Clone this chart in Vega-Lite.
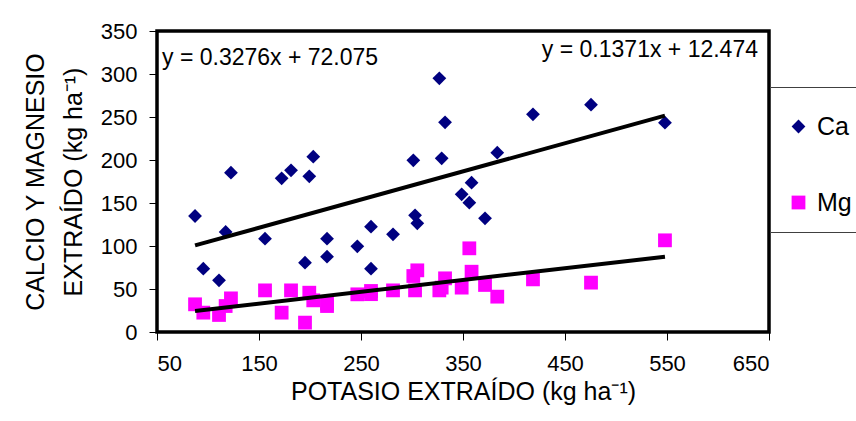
{
  "$schema": "https://vega.github.io/schema/vega-lite/v6.json",
  "width": 612,
  "height": 301,
  "autosize": {"type": "none"},
  "padding": {"left": 157, "top": 31, "right": 87, "bottom": 89},
  "background": "white",
  "config": {
    "font": "Liberation Sans",
    "view": {"stroke": "black", "strokeWidth": 3.5},
    "axis": {
      "grid": false,
      "domain": false,
      "ticks": true,
      "tickColor": "black",
      "tickSize": 8,
      "labelColor": "black",
      "labelFont": "Liberation Sans",
      "labelFontSize": 22,
      "titleFont": "Liberation Sans",
      "titleFontWeight": "normal",
      "titleColor": "black",
      "titleFontSize": 25
    }
  },
  "datasets": {
    "puntos": [
      {"K": 87.3, "valor": 134.9, "serie": "Ca"},
      {"K": 122.5, "valor": 185.2, "serie": "Ca"},
      {"K": 117.3, "valor": 116.3, "serie": "Ca"},
      {"K": 95.4, "valor": 73.6, "serie": "Ca"},
      {"K": 110.8, "valor": 60.1, "serie": "Ca"},
      {"K": 155.9, "valor": 108.5, "serie": "Ca"},
      {"K": 172.2, "valor": 178.7, "serie": "Ca"},
      {"K": 181.4, "valor": 188.0, "serie": "Ca"},
      {"K": 203.2, "valor": 203.9, "serie": "Ca"},
      {"K": 199.3, "valor": 181.0, "serie": "Ca"},
      {"K": 195.1, "valor": 80.6, "serie": "Ca"},
      {"K": 216.7, "valor": 108.5, "serie": "Ca"},
      {"K": 216.7, "valor": 87.6, "serie": "Ca"},
      {"K": 246.4, "valor": 99.6, "serie": "Ca"},
      {"K": 259.8, "valor": 122.5, "serie": "Ca"},
      {"K": 259.8, "valor": 73.6, "serie": "Ca"},
      {"K": 281.4, "valor": 113.6, "serie": "Ca"},
      {"K": 301.3, "valor": 199.6, "serie": "Ca"},
      {"K": 303.0, "valor": 135.7, "serie": "Ca"},
      {"K": 305.2, "valor": 126.4, "serie": "Ca"},
      {"K": 326.8, "valor": 295.0, "serie": "Ca"},
      {"K": 332.4, "valor": 243.8, "serie": "Ca"},
      {"K": 329.1, "valor": 201.9, "serie": "Ca"},
      {"K": 348.7, "valor": 160.1, "serie": "Ca"},
      {"K": 358.4, "valor": 173.6, "serie": "Ca"},
      {"K": 356.2, "valor": 150.4, "serie": "Ca"},
      {"K": 371.6, "valor": 132.2, "serie": "Ca"},
      {"K": 383.6, "valor": 208.5, "serie": "Ca"},
      {"K": 418.6, "valor": 253.1, "serie": "Ca"},
      {"K": 475.5, "valor": 264.3, "serie": "Ca"},
      {"K": 548.0, "valor": 243.4, "serie": "Ca"},
      {"K": 87.3, "valor": 32.2, "serie": "Mg"},
      {"K": 95.4, "valor": 22.5, "serie": "Mg"},
      {"K": 110.8, "valor": 19.8, "serie": "Mg"},
      {"K": 117.3, "valor": 30.2, "serie": "Mg"},
      {"K": 122.5, "valor": 39.1, "serie": "Mg"},
      {"K": 155.9, "valor": 48.4, "serie": "Mg"},
      {"K": 172.2, "valor": 22.5, "serie": "Mg"},
      {"K": 181.4, "valor": 48.4, "serie": "Mg"},
      {"K": 195.1, "valor": 10.9, "serie": "Mg"},
      {"K": 199.3, "valor": 45.7, "serie": "Mg"},
      {"K": 203.2, "valor": 36.8, "serie": "Mg"},
      {"K": 216.7, "valor": 30.2, "serie": "Mg"},
      {"K": 216.7, "valor": 33.0, "serie": "Mg"},
      {"K": 246.4, "valor": 43.8, "serie": "Mg"},
      {"K": 259.8, "valor": 47.7, "serie": "Mg"},
      {"K": 259.8, "valor": 44.0, "serie": "Mg"},
      {"K": 281.4, "valor": 48.4, "serie": "Mg"},
      {"K": 301.3, "valor": 65.1, "serie": "Mg"},
      {"K": 303.0, "valor": 48.4, "serie": "Mg"},
      {"K": 305.2, "valor": 71.7, "serie": "Mg"},
      {"K": 326.8, "valor": 48.4, "serie": "Mg"},
      {"K": 332.4, "valor": 62.4, "serie": "Mg"},
      {"K": 329.1, "valor": 51.6, "serie": "Mg"},
      {"K": 348.7, "valor": 51.6, "serie": "Mg"},
      {"K": 356.2, "valor": 97.3, "serie": "Mg"},
      {"K": 358.4, "valor": 70.1, "serie": "Mg"},
      {"K": 371.6, "valor": 54.7, "serie": "Mg"},
      {"K": 383.6, "valor": 41.1, "serie": "Mg"},
      {"K": 418.6, "valor": 61.2, "serie": "Mg"},
      {"K": 475.5, "valor": 57.4, "serie": "Mg"},
      {"K": 548.0, "valor": 106.6, "serie": "Mg"}
    ],
    "tendencia": [
      {"K": 87.3, "valor": 100.7, "serie": "Ca"},
      {"K": 548.0, "valor": 251.6, "serie": "Ca"},
      {"K": 87.3, "valor": 24.4, "serie": "Mg"},
      {"K": 548.0, "valor": 87.6, "serie": "Mg"}
    ],
    "ecuaciones": [
      {"texto": "y = 0.3276x + 72.075"},
      {"texto": "y = 0.1371x + 12.474"}
    ]
  },
  "layer": [
    {
      "data": {"name": "puntos"},
      "mark": {"type": "point", "filled": true, "opacity": 1, "size": 190, "strokeWidth": 0},
      "encoding": {
        "x": {
          "field": "K", "type": "quantitative",
          "scale": {"domain": [50, 650], "nice": false, "zero": false},
          "axis": {
            "values": [50, 150, 250, 350, 450, 550, 650],
            "title": "POTASIO EXTRAÍDO (kg ha⁻¹)",
            "labelFontSize": 22,
            "titleFontSize": 25,
            "labelPadding": 13,
            "titlePadding": 5
          }
        },
        "y": {
          "field": "valor", "type": "quantitative",
          "scale": {"domain": [0, 350], "nice": false},
          "axis": {
            "values": [0, 50, 100, 150, 200, 250, 300, 350],
            "title": ["CALCIO Y MAGNESIO", "EXTRAÍDO (kg ha⁻¹)"],
            "titleLineHeight": 38,
            "labelFontSize": 22,
            "titleFontSize": 25,
            "labelPadding": 12,
            "titlePadding": 14
          }
        },
        "color": {
          "field": "serie", "type": "nominal",
          "scale": {"domain": ["Ca", "Mg"], "range": ["#000080", "#FF00FF"]},
          "legend": {
            "title": " ",
            "titleFontSize": 2,
            "titlePadding": 9,
            "orient": "none",
            "legendX": 613,
            "legendY": 56,
            "fillColor": "white",
            "strokeColor": "#404040",
            "padding": 16,
            "labelFontSize": 25,
            "labelFont": "Liberation Sans",
            "labelColor": "black",
            "labelOffset": 6,
            "symbolSize": 190,
            "rowPadding": 50,
            "symbolStrokeWidth": 0
          }
        },
        "shape": {
          "field": "serie", "type": "nominal",
          "scale": {"domain": ["Ca", "Mg"], "range": ["diamond", "square"]}
        }
      }
    },
    {
      "data": {"name": "tendencia"},
      "mark": {"type": "line", "color": "black", "strokeWidth": 4},
      "encoding": {
        "x": {"field": "K", "type": "quantitative"},
        "y": {"field": "valor", "type": "quantitative"},
        "detail": {"field": "serie", "type": "nominal"}
      }
    },
    {
      "data": {"name": "ecuaciones"},
      "transform": [{"filter": "datum.texto == 'y = 0.3276x + 72.075'"}],
      "mark": {"type": "text", "align": "left", "baseline": "alphabetic", "fontSize": 23, "font": "Liberation Sans", "color": "black"},
      "encoding": {
        "x": {"datum": 54.9, "type": "quantitative"},
        "y": {"datum": 310.5, "type": "quantitative"},
        "text": {"field": "texto"}
      }
    },
    {
      "data": {"name": "ecuaciones"},
      "transform": [{"filter": "datum.texto == 'y = 0.1371x + 12.474'"}],
      "mark": {"type": "text", "align": "right", "baseline": "alphabetic", "fontSize": 23, "font": "Liberation Sans", "color": "black"},
      "encoding": {
        "x": {"datum": 639.2, "type": "quantitative"},
        "y": {"datum": 319.8, "type": "quantitative"},
        "text": {"field": "texto"}
      }
    }
  ]
}
